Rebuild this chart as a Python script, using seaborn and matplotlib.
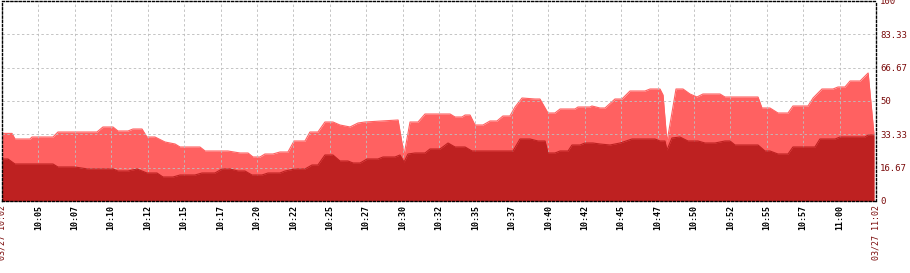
import matplotlib
matplotlib.use("Agg")
import matplotlib.pyplot as plt
import seaborn as sns
import pandas as pd

# ---- data (minutes after 10:02) ----
upper_t = [0, 0.69, 0.89, 1.92, 2.06, 3.50, 3.84, 6.52, 6.93, 7.62, 7.96, 8.65, 8.99, 9.61,
           9.95, 10.50, 11.19, 11.88, 12.22, 13.59, 13.94, 15.51, 16.34, 16.89, 17.23, 17.71,
           18.05, 18.60, 19.08, 19.63, 20.05, 20.80, 21.14, 21.69, 22.17, 22.72, 23.20, 23.89,
           24.44, 24.92, 27.19, 27.60, 28.01, 28.56, 29.04, 30.76, 31.10, 31.58, 31.79, 32.13,
           32.47, 33.02, 33.50, 33.98, 34.39, 34.87, 35.22, 35.70, 36.59, 36.93, 37.48, 37.96,
           38.31, 39.34, 39.54, 40.37, 40.50, 41.05, 41.40, 42.08, 42.56, 43.11, 44.14, 44.49,
           45.17, 45.38, 45.65, 46.27, 46.75, 47.23, 47.71, 48.12, 49.29, 49.63, 51.90, 52.17,
           52.72, 53.27, 53.96, 54.30, 55.33, 55.68, 56.29, 57.05, 57.39, 57.87, 58.22, 58.91,
           59.46, 59.86]
upper_v = [33.8, 33.8, 31, 31, 32, 32, 34.5, 34.5, 37, 37, 35, 35, 36, 36,
           32, 32, 29.5, 28.5, 27, 27, 25, 25, 24, 24, 22, 22,
           23.5, 23.5, 24.5, 24.5, 30, 30, 34.5, 34.5, 39.5, 39.5, 38, 37,
           39, 39.5, 40.5, 23, 39.5, 39.5, 43.5, 43.5, 42, 42, 43, 43,
           38, 38, 40, 40, 42.5, 42.5, 47, 51.5, 51, 51, 44, 44,
           46, 46, 47, 47, 47.5, 46.5, 46.5, 51, 51, 55, 55, 56,
           56, 53, 29.5, 56, 56, 53.5, 52, 53.5, 53.5, 52, 52, 46.5,
           46.5, 44, 44, 47.5, 47.5, 51.5, 56, 56, 57, 57, 60, 60,
           64, 33.5]

lower_t = [0, 0.41, 0.89, 3.50, 3.84, 5.01, 5.90, 7.62, 7.96, 8.65, 9.27, 9.95, 10.64, 11.05,
           11.74, 12.22, 13.25, 13.73, 14.62, 15.10, 15.65, 16.20, 16.68, 17.16, 17.85, 18.26,
           19.08, 19.43, 20.11, 20.80, 21.28, 21.69, 22.17, 22.72, 23.20, 23.75, 24.10, 24.58,
           25.06, 25.81, 26.16, 26.98, 27.32, 27.60, 27.87, 28.35, 29.04, 29.38, 30.07, 30.62,
           31.10, 31.79, 32.27, 35.08, 35.56, 36.25, 36.80, 37.28, 37.48, 37.96, 38.31, 38.86,
           39.13, 39.68, 40.02, 40.57, 41.05, 41.74, 42.43, 43.25, 44.83, 45.17, 45.51, 45.65,
           45.99, 46.54, 47.09, 47.78, 48.26, 48.95, 49.63, 49.98, 50.32, 51.90, 52.38, 52.72,
           53.27, 53.96, 54.30, 55.81, 56.15, 57.19, 57.53, 59.25, 59.46, 59.86]
lower_v = [21, 21, 18.5, 18.5, 17, 17, 16, 16, 15, 15, 16, 14, 14, 12,
           12, 13, 13, 14, 14, 16, 16, 15, 15, 13, 13, 14,
           14, 15, 16, 16, 18, 18, 23, 23, 20, 20, 19, 19,
           21, 21, 22, 22, 23, 19.5, 23.5, 24, 24, 26, 26, 29,
           27, 27, 25, 25, 31, 31, 30, 30, 24, 24, 25, 25,
           28, 28, 29, 29, 28.5, 28, 29, 31, 31, 30, 30, 25.5,
           31.5, 32, 30, 30, 29, 29, 30, 30, 28, 28, 25, 25,
           23.5, 23.5, 27, 27, 31, 31, 32, 32, 33, 33]

x_tick_labels = ["03/27 10:02", "10:05", "10:07", "10:10", "10:12", "10:15", "10:17", "10:20",
                 "10:22", "10:25", "10:27", "10:30", "10:32", "10:35", "10:37", "10:40",
                 "10:42", "10:45", "10:47", "10:50", "10:52", "10:55", "10:57", "11:00",
                 "03/27 11:02"]
y_tick_values = [0, 16.67, 33.33, 50, 66.67, 83.33, 100]
y_tick_labels = ["0", "16.67", "33.33", "50", "66.67", "83.33", "100"]

LIGHT = "#FF6161"
DARK = "#BE2121"
LABEL_RED = "#7A0A0A"

sns.set_style("white")
plt.rcParams["font.family"] = ["DejaVu Sans Mono", "DejaVu Sans"]

fig = plt.figure(figsize=(9.10, 2.73), dpi=100)
ax = fig.add_axes([2 / 910, 1 - 201 / 273, 874 / 910, 200 / 273])

up = pd.DataFrame({"t": upper_t, "v": upper_v})
lo = pd.DataFrame({"t": lower_t, "v": lower_v})

ax.fill_between(up["t"], 0, up["v"], color=LIGHT, linewidth=0, zorder=2)
sns.lineplot(data=up, x="t", y="v", ax=ax, color=LIGHT, linewidth=0.8, zorder=2)
ax.fill_between(lo["t"], 0, lo["v"], color=DARK, linewidth=0, zorder=4)
sns.lineplot(data=lo, x="t", y="v", ax=ax, color=DARK, linewidth=0.8, zorder=4)

ax.set_xlim(0, 60)
ax.set_ylim(0, 100)
ax.set_xlabel("")
ax.set_ylabel("")

xt = [i * 2.5 for i in range(len(x_tick_labels))]
ax.set_xticks(xt)
ax.set_xticklabels(x_tick_labels, rotation=90, fontsize=6, va="top", ha="center",
                   fontweight="bold")
for i, lab in enumerate(ax.get_xticklabels()):
    if i == 0 or i == len(x_tick_labels) - 1:
        lab.set_color(LABEL_RED)
        lab.set_fontweight("normal")
    else:
        lab.set_color("black")

ax.yaxis.tick_right()
ax.set_yticks(y_tick_values)
ax.set_yticklabels(y_tick_labels, fontsize=6.5, color=LABEL_RED)
ax.tick_params(axis="both", length=0)
ax.tick_params(axis="x", pad=3)
ax.tick_params(axis="y", pad=3)

ax.grid(True, color="#BDBDBD", linestyle=(0, (2.5, 2.5)), linewidth=0.7)
ax.set_axisbelow(False)
for g in ax.get_xgridlines() + ax.get_ygridlines():
    g.set_zorder(3)
    g.set_alpha(0.9)

for s in ax.spines.values():
    s.set_visible(True)
    s.set_color("black")
    s.set_linestyle((0, (1.5, 1.5)))
    s.set_linewidth(1.0)
    s.set_zorder(5)

fig.savefig("out.png", dpi=100)
